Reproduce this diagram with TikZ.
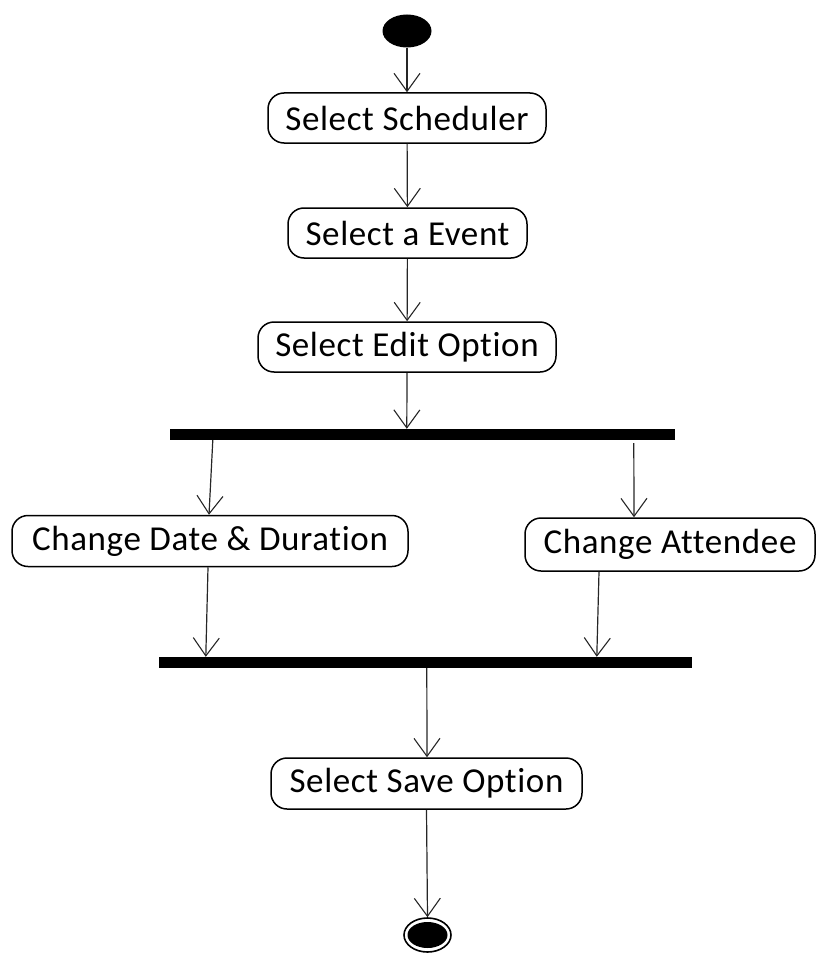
\documentclass[tikz,border=0pt]{standalone}
\usepackage{fontspec}
\setmainfont[Ligatures=NoCommon,LetterSpace=1.8]{Carlito}
\usetikzlibrary{arrows.meta,shapes.geometric}
\begin{document}
\begin{tikzpicture}[x=1pt,y=-1pt,
  activity/.style={draw=black,line width=1.5pt,rounded corners=16pt,fill=white,
    inner sep=0pt,font=\fontsize{35}{40}\selectfont},
  syncbar/.style={fill=black,draw=none,inner sep=0pt,minimum height=11pt},
  flow/.style={draw=black!85,line width=1.2pt,-{Straight Barb[length=18pt,width=26pt,line width=1.1pt]}},
  startnode/.style={ellipse,fill=black,draw=none,inner sep=0pt},
]
\useasboundingbox (0,0) rectangle (817,955);
% initial and final states
\node[startnode,minimum width=49pt,minimum height=33pt] (start) at (407,31) {};
\node[draw=black,line width=1.6pt,ellipse,inner sep=0pt,minimum width=47pt,minimum height=34pt] (final) at (427.5,935) {};
\node[startnode,minimum width=40pt,minimum height=26pt] (finalcore) at (427.5,935) {};
% activities
\node[activity,minimum width=278pt,minimum height=50pt] (sched) at (407,118) {Select Scheduler};
\node[activity,minimum width=239pt,minimum height=50pt] (event) at (407.5,233) {Select a Event};
\node[activity,minimum width=298pt,minimum height=50pt] (edit) at (407,347) {Select Edit Option};
\node[activity,minimum width=396pt,minimum height=51pt] (cdd) at (210,541) {Change Date \& Duration};
\node[activity,minimum width=290pt,minimum height=53pt] (catt) at (670,544.5) {Change Attendee};
\node[activity,minimum width=311pt,minimum height=51pt] (save) at (426.5,783.5) {Select Save Option};
% fork and join bars
\node[syncbar,minimum width=505pt] (fork) at (422.5,434.5) {};
\node[syncbar,minimum width=533pt] (join) at (425.5,662.5) {};
% control flows
\draw[flow] (start) -- (sched);
\draw[flow] (sched) -- (event);
\draw[flow] (event) -- (edit);
\draw[flow] (edit.south) -- ([xshift=237pt]fork.north west);
\draw[flow] ([xshift=43pt]fork.south west) -- ([xshift=-1pt]cdd.north);
\draw[flow] ([xshift=464pt,yshift=-3pt]fork.south west) -- ([xshift=-36pt]catt.north);
\draw[flow] ([xshift=-2pt]cdd.south) -- ([xshift=47pt]join.north west);
\draw[flow] ([xshift=-71pt]catt.south) -- ([xshift=438pt]join.north west);
\draw[flow] ([xshift=268pt]join.south west) -- ([xshift=0.5pt]save.north);
\draw[flow] (save.south) -- (final.north);
\end{tikzpicture}
\end{document}
